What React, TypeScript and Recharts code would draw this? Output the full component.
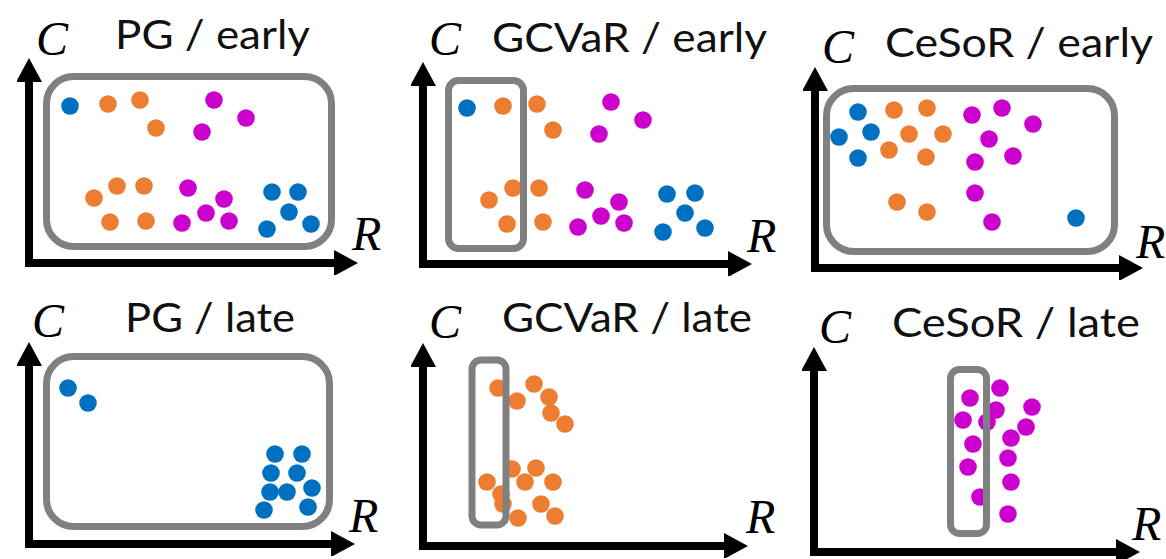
import React from 'react';
import { ScatterChart, Scatter, XAxis, YAxis, ReferenceArea } from 'recharts';

// Group colours
const BLUE = '#0070C0';
const ORANGE = '#ED7D31';
const MAGENTA = '#CC00CC';
const FRAME = '#808080';

type Pt = { r: number; c: number };

// ---- PG / early ----
const pgEarlyBlue: Pt[] = [
  { r: 4.1, c: 15.7 }, { r: 24.3, c: 7.1 }, { r: 26.9, c: 7.1 }, { r: 26.0, c: 5.1 }, { r: 23.8, c: 3.4 }, { r: 28.2, c: 3.9 },
];
const pgEarlyOrange: Pt[] = [
  { r: 7.9, c: 15.9 }, { r: 11.1, c: 16.3 }, { r: 12.7, c: 13.5 },
  { r: 6.5, c: 6.5 }, { r: 8.8, c: 7.7 }, { r: 11.5, c: 7.7 }, { r: 8.1, c: 4.1 }, { r: 11.7, c: 4.2 },
];
const pgEarlyMagenta: Pt[] = [
  { r: 18.5, c: 16.3 }, { r: 21.7, c: 14.5 }, { r: 17.3, c: 13.1 },
  { r: 15.9, c: 7.5 }, { r: 19.5, c: 6.4 }, { r: 17.7, c: 5.0 }, { r: 15.3, c: 4.0 }, { r: 20.0, c: 4.2 },
];

// ---- GCVaR / early ----
const gcvarEarlyBlue: Pt[] = [
  { r: 4.4, c: 15.6 }, { r: 24.4, c: 7.0 }, { r: 27.2, c: 7.1 }, { r: 26.2, c: 5.1 }, { r: 24.0, c: 3.2 }, { r: 28.2, c: 3.6 },
];
const gcvarEarlyOrange: Pt[] = [
  { r: 8.0, c: 15.8 }, { r: 11.4, c: 16.0 }, { r: 13.0, c: 13.4 },
  { r: 6.6, c: 6.4 }, { r: 9.0, c: 7.6 }, { r: 11.6, c: 7.6 }, { r: 8.4, c: 4.0 }, { r: 12.0, c: 4.2 },
];
const gcvarEarlyMagenta: Pt[] = [
  { r: 18.8, c: 16.2 }, { r: 22.0, c: 14.4 }, { r: 17.6, c: 13.0 },
  { r: 16.2, c: 7.4 }, { r: 19.6, c: 6.2 }, { r: 17.8, c: 4.8 }, { r: 15.5, c: 3.7 }, { r: 20.1, c: 4.1 },
];

// ---- CeSoR / early ----
const cesorEarlyBlue: Pt[] = [
  { r: 4.3, c: 15.6 }, { r: 2.4, c: 13.1 }, { r: 5.6, c: 13.6 }, { r: 4.3, c: 11.0 }, { r: 26.1, c: 5.0 },
];
const cesorEarlyOrange: Pt[] = [
  { r: 7.9, c: 15.8 }, { r: 11.2, c: 16.0 }, { r: 9.4, c: 13.4 }, { r: 12.8, c: 13.4 },
  { r: 7.4, c: 11.8 }, { r: 11.1, c: 11.1 }, { r: 8.2, c: 6.6 }, { r: 11.2, c: 5.6 },
];
const cesorEarlyMagenta: Pt[] = [
  { r: 15.7, c: 15.3 }, { r: 18.7, c: 16.0 }, { r: 21.8, c: 14.4 }, { r: 17.4, c: 12.9 },
  { r: 19.8, c: 11.2 }, { r: 16.0, c: 10.6 }, { r: 16.0, c: 7.5 }, { r: 17.7, c: 4.6 },
];

// ---- PG / late ----
const pgLateBlue: Pt[] = [
  { r: 3.9, c: 15.6 }, { r: 5.9, c: 14.1 },
  { r: 24.6, c: 9.0 }, { r: 27.3, c: 9.0 }, { r: 24.2, c: 7.1 }, { r: 26.8, c: 7.1 },
  { r: 24.1, c: 5.2 }, { r: 25.8, c: 5.2 }, { r: 28.3, c: 5.6 }, { r: 23.5, c: 3.4 }, { r: 27.9, c: 3.7 },
];

// ---- GCVaR / late ----
const gcvarLateOrange: Pt[] = [
  { r: 7.5, c: 15.8 }, { r: 11.1, c: 16.2 }, { r: 9.4, c: 14.5 }, { r: 12.6, c: 14.9 }, { r: 12.8, c: 13.3 }, { r: 14.2, c: 12.2 },
  { r: 8.9, c: 7.7 }, { r: 11.3, c: 7.8 }, { r: 6.4, c: 6.4 }, { r: 10.2, c: 6.4 }, { r: 13.0, c: 6.4 },
  { r: 7.8, c: 5.2 }, { r: 8.0, c: 4.2 }, { r: 11.8, c: 4.2 }, { r: 9.5, c: 2.8 }, { r: 13.2, c: 3.0 },
];

// ---- CeSoR / late ----
const cesorLateMagenta: Pt[] = [
  { r: 15.6, c: 15.4 }, { r: 18.6, c: 16.4 }, { r: 14.9, c: 13.2 }, { r: 17.3, c: 13.0 }, { r: 18.2, c: 14.2 },
  { r: 21.8, c: 14.5 }, { r: 21.2, c: 12.5 }, { r: 19.7, c: 11.4 }, { r: 15.9, c: 10.8 }, { r: 19.4, c: 9.4 },
  { r: 15.4, c: 8.5 }, { r: 19.7, c: 7.0 }, { r: 16.6, c: 5.5 }, { r: 19.4, c: 3.8 },
];

// Selected region of each panel: [r1, r2, c1, c2]
const frameRanges: [number, number, number, number][] = [
  [1.75, 30.25, 1.65, 18.65],
  [2.55, 10.05, 1.55, 18.35],
  [1.15, 29.95, 1.65, 17.95],
  [1.75, 30.05, 1.75, 18.75],
  [4.9, 8.3, 2.1, 18.6],
  [13.65, 17.25, 1.85, 18.25],
];

const panelTitles = ['PG / early', 'GCVaR / early', 'CeSoR / early', 'PG / late', 'GCVaR / late', 'CeSoR / late'];

const panelSeries: { data: Pt[]; color: string }[][] = [
  [{ data: pgEarlyBlue, color: BLUE }, { data: pgEarlyOrange, color: ORANGE }, { data: pgEarlyMagenta, color: MAGENTA }],
  [{ data: gcvarEarlyBlue, color: BLUE }, { data: gcvarEarlyOrange, color: ORANGE }, { data: gcvarEarlyMagenta, color: MAGENTA }],
  [{ data: cesorEarlyBlue, color: BLUE }, { data: cesorEarlyOrange, color: ORANGE }, { data: cesorEarlyMagenta, color: MAGENTA }],
  [{ data: pgLateBlue, color: BLUE }],
  [{ data: gcvarLateOrange, color: ORANGE }],
  [{ data: cesorLateMagenta, color: MAGENTA }],
];

// ---- layout (pixels) ----
const PX_PER_UNIT = 10;
const ARROW = 24;
const ARROW_W = 26;
const AXIS_W = 8;
const DOT_R = 8.8;

type Layout = {
  ox: number; oy: number; tipX: number; tipY: number; frameRx: number;
  title: [number, number, number]; // left, right, baseline
  cLab: [number, number];
  rLab: [number, number];
};

const layouts: Layout[] = [
  { ox: 29, oy: 263, tipX: 358, tipY: 58, frameRx: 27, title: [115, 310, 49], cLab: [36, 55], rLab: [352, 250] },
  { ox: 423, oy: 264, tipX: 752, tipY: 62, frameRx: 10, title: [492, 767, 52], cLab: [429, 55], rLab: [747, 252] },
  { ox: 815, oy: 268, tipX: 1143, tipY: 67, frameRx: 27, title: [885, 1153, 57], cLab: [822, 63], rLab: [1136, 258] },
  { ox: 29, oy: 544, tipX: 355, tipY: 342, frameRx: 27, title: [125, 295, 332], cLab: [32, 337], rLab: [349, 532] },
  { ox: 423, oy: 546, tipX: 748, tipY: 343, frameRx: 9, title: [502, 752, 332], cLab: [429, 338], rLab: [746, 533] },
  { ox: 814, oy: 552, tipX: 1140, tipY: 347, frameRx: 9, title: [892, 1140, 337], cLab: [819, 343], rLab: [1132, 540] },
];

const PAD = 12;

function Panel({ idx }: { idx: number }) {
  const L = layouts[idx];
  const plotW = L.tipX - ARROW - L.ox;
  const plotH = L.oy - L.tipY - ARROW;
  const width = plotW + ARROW + 2 * PAD;
  const height = plotH + ARROW + 2 * PAD;
  const [r1, r2, c1, c2] = frameRanges[idx];
  const axisLineX = { stroke: '#000', strokeWidth: AXIS_W, strokeLinecap: 'square', markerEnd: 'url(#arrowHead)' };
  const axisLineY = { stroke: '#000', strokeWidth: AXIS_W, strokeLinecap: 'square', markerStart: 'url(#arrowHead)' };
  return (
    <div style={{ position: 'absolute', left: L.ox - PAD, top: L.tipY - PAD, width, height }}>
      <ScatterChart
        width={width}
        height={height}
        margin={{ top: PAD + ARROW, right: PAD + ARROW, bottom: PAD - 1, left: PAD - 1 }}
      >
        <XAxis
          type="number"
          dataKey="r"
          domain={[0, plotW / PX_PER_UNIT]}
          allowDataOverflow
          height={1}
          tick={false}
          tickLine={false}
          axisLine={axisLineX as any}
        />
        <YAxis
          type="number"
          dataKey="c"
          domain={[0, plotH / PX_PER_UNIT]}
          allowDataOverflow
          width={1}
          tick={false}
          tickLine={false}
          axisLine={axisLineY as any}
        />
        {panelSeries[idx].map((s, i) => (
          <Scatter
            key={i}
            data={s.data}
            isAnimationActive={false}
            shape={(p: any) => <circle cx={p.cx} cy={p.cy} r={DOT_R} fill={s.color} />}
          />
        ))}
        <ReferenceArea
          x1={r1}
          x2={r2}
          y1={c1}
          y2={c2}
          ifOverflow="visible"
          zIndex={700}
          shape={(p: any) => (
            <rect
              x={p.x}
              y={p.y}
              width={p.width}
              height={p.height}
              rx={L.frameRx}
              ry={L.frameRx}
              fill="none"
              stroke={FRAME}
              strokeWidth={7}
            />
          )}
        />
      </ScatterChart>
    </div>
  );
}

export default function App() {
  return (
    <div style={{ position: 'absolute', left: 0, top: 0, width: 1166, height: 559, background: '#fff', overflow: 'hidden' }}>
      <svg width={0} height={0} style={{ position: 'absolute' }}>
        <defs>
          <marker
            id="arrowHead"
            markerUnits="userSpaceOnUse"
            markerWidth={ARROW}
            markerHeight={ARROW_W}
            viewBox={`0 0 ${ARROW} ${ARROW_W}`}
            refX={0}
            refY={ARROW_W / 2}
            orient="auto-start-reverse"
          >
            <path d={`M0,0 L${ARROW},${ARROW_W / 2} L0,${ARROW_W} Z`} fill="#000" />
          </marker>
        </defs>
      </svg>
      {layouts.map((_, i) => (
        <Panel key={i} idx={i} />
      ))}
      <svg width={1166} height={559} style={{ position: 'absolute', left: 0, top: 0, pointerEvents: 'none' }}>
        {layouts.map((L, i) => (
          <g key={i}>
            <text
              x={L.title[0]}
              y={L.title[2]}
              textLength={L.title[1] - L.title[0]}
              lengthAdjust="spacingAndGlyphs"
              fontFamily="Lato, 'Open Sans', sans-serif"
              fontSize={40}
              fill="#111"
            >
              {panelTitles[i]}
            </text>
            <text x={L.cLab[0]} y={L.cLab[1]} fontFamily="'Liberation Serif', serif" fontStyle="italic" fontSize={48} fill="#000">
              C
            </text>
            <text x={L.rLab[0]} y={L.rLab[1]} fontFamily="'Liberation Serif', serif" fontStyle="italic" fontSize={48} fill="#000">
              R
            </text>
          </g>
        ))}
      </svg>
    </div>
  );
}
